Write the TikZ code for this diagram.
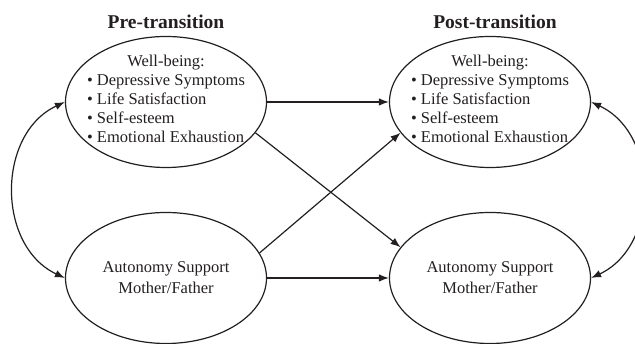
\documentclass[tikz,border=0pt]{standalone}
\usepackage{fontspec}
\setmainfont{Liberation Serif}
\usetikzlibrary{shapes.geometric, arrows.meta}
\definecolor{ink}{HTML}{231F20}
\tikzset{>={Latex[length=10pt, width=7.5pt]}}
\tikzset{
  latent/.style={draw, ellipse, line width=1.2pt, minimum width=201pt, minimum height=131pt, inner sep=0pt},
  effect/.style={line width=1.2pt, ->},
  wave/.style={font=\fontsize{19.5}{22}\selectfont\bfseries, anchor=base}
}
\newcommand{\wellbeinglist}{%
  \begin{tabular}{@{}l@{}}
  \multicolumn{1}{@{}c@{}}{Well-being:}\\
  \textbullet\ Depressive Symptoms\\
  \textbullet\ Life Satisfaction\\
  \textbullet\ Self-esteem\\
  \textbullet\ Emotional Exhaustion
  \end{tabular}}

\begin{document}
\begin{tikzpicture}[x=1pt, y=1pt, font=\fontsize{16.5}{19}\selectfont, color=ink]
\useasboundingbox (0,0) rectangle (635,344);
\node[wave] (preTitle) at (166,315) {Pre-transition};
\node[wave] (postTitle) at (495,315) {Post-transition};
\node[latent] (preWB) at (166,242) {};
\node[latent] (postWB) at (490,242) {};
\node[latent] (preAS) at (166,66) {};
\node[latent] (postAS) at (490,66) {};
\node (preWBtext) at ([yshift=1pt]preWB.center) {\wellbeinglist};
\node (postWBtext) at ([yshift=1pt]postWB.center) {\wellbeinglist};
\node[align=center] (preAStext) at (preAS) {Autonomy Support\\[2pt] Mother/Father};
\node[align=center] (postAStext) at (postAS) {Autonomy Support\\[2pt] Mother/Father};
\draw[effect] (preWB.east) -- (postWB.west);
\draw[effect] (preWB.-19) -- (postAS.161);
\draw[effect] (preAS.15) -- (postWB.-161);
\draw[effect] (preAS.east) -- (postAS.west);
\draw[effect, <->] (preWB.west) to[out=205, in=155, looseness=1.1] (preAS.west);
\draw[effect, <->] (postWB.east) to[out=-25, in=25, looseness=1.1] (postAS.east);
\end{tikzpicture}
\end{document}
